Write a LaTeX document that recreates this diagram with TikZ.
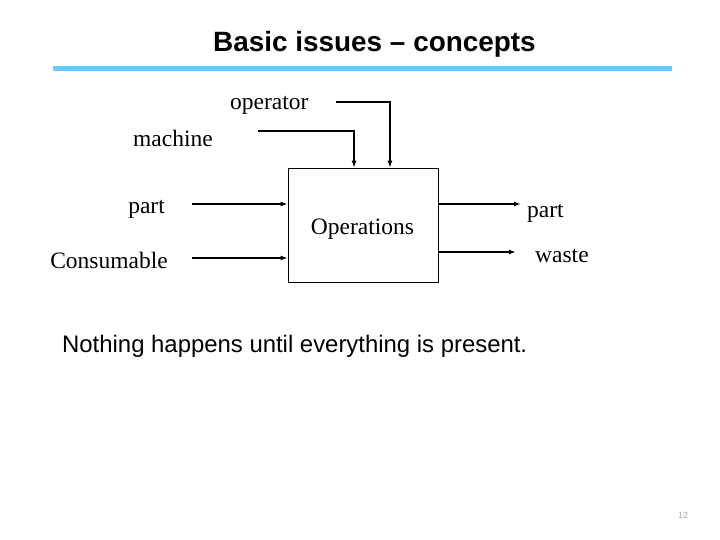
\documentclass[tikz,border=0pt]{standalone}
\usepackage{fontspec}
\setmainfont{Liberation Serif}
\newfontfamily\arialfont{Liberation Sans}
\usetikzlibrary{arrows.meta}
\definecolor{rulblue}{RGB}{102,204,255}
\tikzset{
  lbl/.style={inner sep=0pt, anchor=base west, font=\fontsize{23.5}{28}\selectfont},
  flow/.style={line width=2pt, -{Latex[length=7pt,width=5pt]}},
  opbox/.style={draw, line width=0.8pt, inner sep=0pt, minimum width=150pt, minimum height=114pt}
}
\begin{document}
\begin{tikzpicture}[x=1pt,y=-1pt]
\useasboundingbox (0,0) rectangle (720,540);
\node[inner sep=0pt, anchor=base, font=\arialfont\bfseries\fontsize{27.9}{32}\selectfont] (title) at (374.5,52) {Basic issues – concepts};
\fill[rulblue] (53,66) rectangle (672,71);
\node[opbox] (box) at (363,225) {};
\node[inner sep=0pt, anchor=base, font=\fontsize{23.5}{28}\selectfont] (ops) at (362.5,234) {Operations};
\node[lbl] (operator) at (230,110) {operator};
\node[lbl] (machine) at (133,147) {machine};
\node[lbl, anchor=base east] (partin) at (165,214) {part};
\node[lbl, anchor=base east] (cons) at (168,268) {Consumable};
\node[lbl] (partout) at (527,218) {part};
\node[lbl] (waste) at (535,262) {waste};
\coordinate (opstart) at (336,102);
\coordinate (mastart) at (258,131);
\coordinate (pistart) at (192,204);
\coordinate (costart) at (192,258);
\coordinate (poend) at (521,204);
\coordinate (waend) at (516,252);
\draw[flow] (opstart) -| (box.north west -| 390,0);
\draw[flow] (mastart) -| (box.north west -| 354,0);
\draw[flow] (pistart) -- (pistart -| box.west);
\draw[flow] (costart) -- (costart -| box.west);
\draw[flow] (poend -| box.east) -- (poend);
\draw[flow] (waend -| box.east) -- (waend);
\node[inner sep=0pt, anchor=base west, font=\arialfont\fontsize{23.9}{28}\selectfont] (note) at (62,352) {Nothing happens until everything is present.};
\node[inner sep=0pt, anchor=base, text=gray!70, font=\arialfont\fontsize{9}{10}\selectfont] (pg) at (683,518) {12};
\end{tikzpicture}
\end{document}
